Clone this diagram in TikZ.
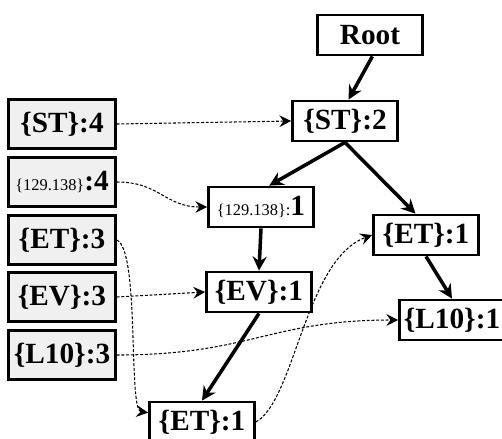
\documentclass[tikz,border=0pt]{standalone}
\usepackage{fontspec}
\setmainfont{Liberation Serif}
\usetikzlibrary{arrows.meta}
\newcommand{\ipkey}[1]{{\fontsize{14}{14}\selectfont\mdseries #1}}
\begin{document}
\begin{tikzpicture}[x=0.03cm, y=-0.03cm,
        treebox/.style={draw, line width=2.4pt, minimum width=3.15cm, minimum height=1.2cm, inner sep=1pt, font=\fontsize{25}{27}\selectfont\bfseries},
        countbox/.style={treebox, fill=gray!12, minimum width=3.2cm, minimum height=1.45cm},
        edge/.style={line width=3pt, -{Stealth[length=12pt,width=12pt,inset=4pt]}},
        link/.style={line width=0.9pt, dash pattern=on 2.5pt off 1.5pt, -{Stealth[length=10pt,width=10pt,inset=3.5pt]}}]
            \useasboundingbox (0,0) rectangle (502,438);

            \node[treebox] (root) at (370,35) {Root};
            \node[treebox] (st2) at (345,121) {\{ST\}:2};
            \node[treebox] (ip1) at (261,207) {\ipkey{\{129.138\}:}1};
            \node[treebox] (et1) at (426,235) {\{ET\}:1};
            \node[treebox] (ev1) at (259,292) {\{EV\}:1};
            \node[treebox] (l101) at (452,320) {\{L10\}:1};
            \node[treebox] (et1b) at (202,422) {\{ET\}:1};

            \node[countbox] (st4) at (62,124) {\{ST\}:4};
            \node[countbox] (ip4) at (62,182) {\ipkey{\{129.138\}}:4};
            \node[countbox] (et3) at (62,240) {\{ET\}:3};
            \node[countbox] (ev3) at (62,297) {\{EV\}:3};
            \node[countbox] (l103) at (62,355) {\{L10\}:3};

            \draw[edge] ([xshift=2pt]root.south) -- ([xshift=3pt]st2.north);
            \draw[edge] (st2.south) -- ([xshift=7pt]ip1.north);
            \draw[edge] (st2.south) -- ([xshift=-9pt]et1.north);
            \draw[edge] (ip1.south) -- (ev1.north);
            \draw[edge] (ev1.south) -- (et1b.north);
            \draw[edge] (et1.south) -- (l101.north);

            \draw[link] (st4.east) -- (st2.west);
            \draw[link] (ip4.east) .. controls (160,182) and (165,207) .. (ip1.west);
            \draw[link] (et3.east) .. controls (140,250) and (128,410) .. ([yshift=8pt]et1b.west);
            \draw[link] (ev3.east) -- (ev1.west);
            \draw[link] (l103.east) .. controls (250,355) and (270,320) .. (l101.west);
            \draw[link] (et1b.east) .. controls (295,400) and (305,260) .. (et1.west);
        \end{tikzpicture}
\end{document}
